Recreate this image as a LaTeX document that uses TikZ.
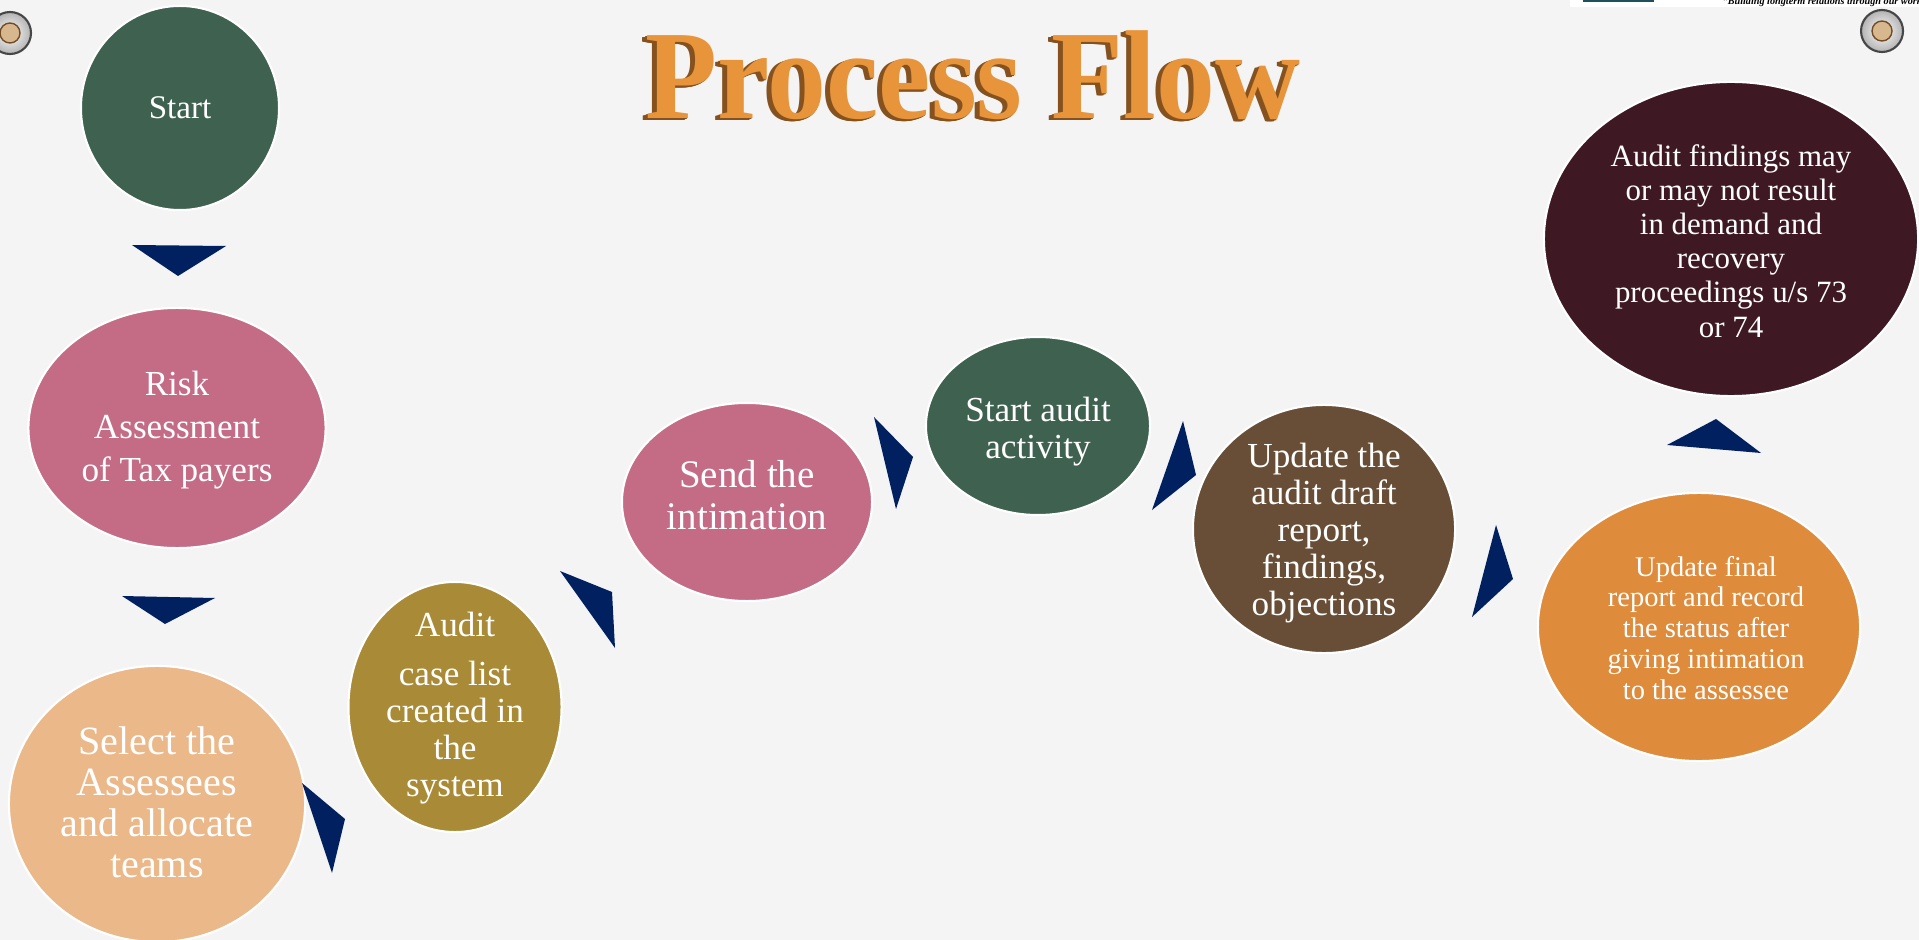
\documentclass[tikz,border=0pt]{standalone}
\usepackage{fontspec}
\setmainfont{Liberation Serif}
\usetikzlibrary{shapes.geometric}

\definecolor{nen}{HTML}{F4F4F4}
\definecolor{xanhreu}{HTML}{3F6250}
\definecolor{hong}{HTML}{C46C86}
\definecolor{dao}{HTML}{EBB88A}
\definecolor{oliu}{HTML}{A98B37}
\definecolor{nau}{HTML}{684E36}
\definecolor{cam}{HTML}{DE8B3C}
\definecolor{mandat}{HTML}{3E1822}
\definecolor{navy}{HTML}{002060}
\definecolor{camtieude}{HTML}{E8943A}
\definecolor{bongtieude}{HTML}{85521F}
\definecolor{xanhlogo}{HTML}{1F4E5A}
\definecolor{dong}{HTML}{D6B78E}

\tikzset{
  buoc/.style={ellipse, draw=white, line width=0.6pt, inner sep=0pt},
  chu/.style={text=white, align=center, inner sep=0pt},
  muiten/.style={fill=navy},
}

\begin{document}
\begin{tikzpicture}[x=0.01cm, y=-0.01cm]
\useasboundingbox (0,0) rectangle (1919,940);
\clip (0,0) rectangle (1919,940);

% Nền
\fill[nen] (0,0) rectangle (1919,940);

% Dải logo góc phải
\fill[white] (1570,0) rectangle (1919,7);
\fill[xanhlogo] (1583,0) rectangle (1654,2);
\node[anchor=base west, inner sep=0pt, font={\fontsize{2.9}{3}\selectfont\bfseries\itshape}] (khauhieu) at (1722,5) {“Building longterm relations through our work”};

% Đinh ghim hai góc
\foreach \x/\y in {10/33, 1882/31} {
  \shade[inner color=white, outer color=gray!60] (\x,\y) circle (21);
  \draw[gray!55!black, line width=0.6pt] (\x,\y) circle (21);
  \fill[dong] (\x,\y) circle (10);
  \draw[brown!60!black, line width=0.4pt] (\x,\y) circle (10);
}

% Tiêu đề
\foreach \d in {1,...,5}
  \node[anchor=base, inner sep=0pt, xscale=0.93, text=bongtieude, font={\fontsize{36}{40}\selectfont\bfseries}] at (973-\d,119+0.4*\d) {Process Flow};
\node[anchor=base, inner sep=0pt, xscale=0.93, text=camtieude, font={\fontsize{36}{40}\selectfont\bfseries}] (tieude) at (973,119) {Process Flow};

% Các bước
\node[buoc, fill=xanhreu, minimum width=1.98cm, minimum height=2.04cm] (start) at (180,108) {};
\node[buoc, fill=hong, minimum width=2.97cm, minimum height=2.40cm] (risk) at (177,428) {};
\node[buoc, fill=dao, minimum width=2.96cm, minimum height=2.76cm] (select) at (157,804) {};
\node[buoc, fill=oliu, minimum width=2.13cm, minimum height=2.50cm] (caselist) at (455,707) {};
\node[buoc, fill=hong, minimum width=2.50cm, minimum height=1.98cm] (send) at (747,502) {};
\node[buoc, fill=xanhreu, minimum width=2.24cm, minimum height=1.78cm] (startaudit) at (1038,426) {};
\node[buoc, fill=nau, minimum width=2.62cm, minimum height=2.48cm] (draft) at (1324,529) {};
\node[buoc, fill=cam, minimum width=3.22cm, minimum height=2.68cm] (final) at (1699,627) {};
\node[buoc, fill=mandat, minimum width=3.74cm, minimum height=3.14cm] (findings) at (1731,239) {};

% Chữ trong các bước
\node[chu, font={\fontsize{9.4}{11}\selectfont}] (start-t) at (start) {Start};
\node[chu, font={\fontsize{10}{12.2}\selectfont}] (risk-t) at (177,430) {Risk\\Assessment\\of Tax payers};
\node[chu, font={\fontsize{11.4}{11.7}\selectfont}] (select-t) at (157,802) {Select the\\Assessees\\and allocate\\teams};
\node[chu, font={\fontsize{10}{10.5}\selectfont}] (caselist-t) at (455,708) {Audit\\[3.7pt]case list\\created in\\the\\system};
\node[chu, font={\fontsize{11.1}{12}\selectfont}] (send-t) at (747,495) {Send the\\intimation};
\node[chu, font={\fontsize{10}{10.5}\selectfont}] (startaudit-t) at (1038,432) {Start audit\\activity};
\node[chu, font={\fontsize{10}{10.5}\selectfont}] (draft-t) at (1324,533) {Update the\\audit draft\\report,\\findings,\\objections};
\node[chu, font={\fontsize{8.1}{8.8}\selectfont}] (final-t) at (1706,628) {Update final\\report and record\\the status after\\giving intimation\\to the assessee};
\node[chu, font={\fontsize{8.8}{9.7}\selectfont}] (findings-t) at (1731,241) {Audit findings may\\or may not result\\in demand and\\recovery\\proceedings u/s 73\\or 74};

% Mũi tên tam giác
\fill[muiten] (132,245) -- (226,246) -- (178,276) -- cycle;
\fill[muiten] (122,596) -- (215,598) -- (165,624) -- cycle;
\fill[muiten] (302,783) -- (345,819) -- (332,873) -- cycle;
\fill[muiten] (560,571) -- (612,592) -- (615,648) -- cycle;
\fill[muiten] (874,417) -- (913,457) -- (896,509) -- cycle;
\fill[muiten] (1183,421) -- (1196,475) -- (1152,510) -- cycle;
\fill[muiten] (1496,525) -- (1513,579) -- (1472,617) -- cycle;
\fill[muiten] (1667,445) -- (1716,419) -- (1761,453) -- cycle;
\end{tikzpicture}
\end{document}
